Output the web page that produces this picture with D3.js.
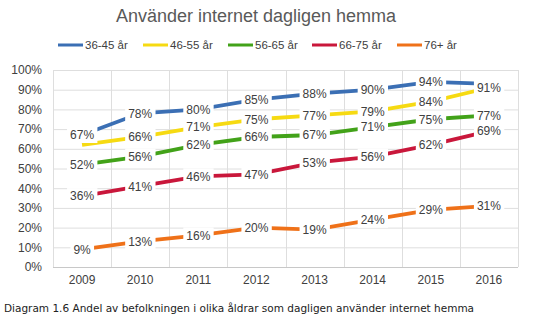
<!DOCTYPE html>
<html><head><meta charset="utf-8">
<script src="https://cdn.jsdelivr.net/npm/d3@7"></script>
<style>body{margin:0;background:#fff}svg{display:block;font-family:"Liberation Sans",Arial,sans-serif}</style>
</head><body><svg id="c" width="547" height="330"></svg>
<script>
const years = ["2009","2010","2011","2012","2013","2014","2015","2016"];
const seriesNames = ["36-45 år","46-55 år","56-65 år","66-75 år","76+ år"];
const seriesColors = ["#3b6fb4","#f6da12","#42a219","#c9173b","#ef7119"];
const s3645 = [67,78,80,85,88,90,94,93];
const s4655 = [62,66,71,75,77,79,84,91];
const s5665 = [52,56,62,66,67,71,75,77];
const s6675 = [36,41,46,47,53,56,62,69];
const s76 = [9,13,16,20,19,24,29,31];
// labels hidden in reference (overlapping): [series, year index]
const hiddenLabels = [[1,0],[0,7]];
const yTicks = [0,10,20,30,40,50,60,70,80,90,100];
const title = "Använder internet dagligen hemma";
const caption = "Diagram 1.6 Andel av befolkningen i olika åldrar som dagligen använder internet hemma";

const allSeries = [s3645,s4655,s5665,s6675,s76];
const svg = d3.select("#c");
const m = {l:53, r:518, t:70, b:267};
const x = d3.scaleBand().domain(years).range([m.l, m.r]).padding(0);
const y = d3.scaleLinear().domain([0,100]).range([m.b, m.t]);

svg.append("text").attr("x",256).attr("y",22).attr("text-anchor","middle")
  .attr("font-size",18).attr("fill","#595959").text(title);

// legend
const legX = [58,143,228,312,397];
seriesNames.forEach((n,i)=>{
  const g = svg.append("g");
  g.append("line").attr("x1",legX[i]).attr("x2",legX[i]+25).attr("y1",45).attr("y2",45)
    .attr("stroke",seriesColors[i]).attr("stroke-width",3);
  g.append("text").attr("x",legX[i]+27).attr("y",49).attr("font-size",11.5).attr("fill","#404040").text(n);
});

// gridlines
svg.append("g").selectAll("line").data(yTicks).join("line")
  .attr("x1",m.l).attr("x2",m.r).attr("y1",d=>y(d)+0.5).attr("y2",d=>y(d)+0.5)
  .attr("stroke",d=>d===0?"#c8c8c8":"#dedede").attr("stroke-width",1);
const bounds = years.map(d=>x(d)).concat([x(years[years.length-1])+x.bandwidth()]);
svg.append("g").selectAll("line").data(bounds).join("line")
  .attr("x1",d=>Math.round(d)+0.5).attr("x2",d=>Math.round(d)+0.5).attr("y1",m.t).attr("y2",m.b)
  .attr("stroke","#dedede").attr("stroke-width",1);

// axes
const ya = d3.axisLeft(y).tickValues(yTicks).tickFormat(d=>d+"%").tickSize(0).tickPadding(11);
const yg = svg.append("g").attr("transform",`translate(${m.l},0)`).call(ya);
yg.select(".domain").remove();
yg.selectAll("text").attr("font-size",12).attr("fill","#404040").attr("font-family","Liberation Sans, Arial, sans-serif");
const xa = d3.axisBottom(x).tickSize(0).tickPadding(8);
const xg = svg.append("g").attr("transform",`translate(0,${m.b})`).call(xa);
xg.select(".domain").remove();
xg.selectAll("text").attr("font-size",12).attr("fill","#404040").attr("font-family","Liberation Sans, Arial, sans-serif");

// lines
const line = d3.line().x((d,i)=>x(years[i])+x.bandwidth()/2).y(d=>y(d));
allSeries.forEach((s,i)=>{
  svg.append("path").datum(s).attr("d",line).attr("fill","none")
    .attr("stroke",seriesColors[i]).attr("stroke-width",3.8);
});

// labels
const lg = svg.append("g");
allSeries.forEach((s,si)=>{
  s.forEach((v,i)=>{
    if(hiddenLabels.some(h=>h[0]===si&&h[1]===i)) return;
    const cx = x(years[i])+x.bandwidth()/2, cy = y(v);
    const g = lg.append("g");
    const t = g.append("text").attr("x",cx).attr("y",cy+4.3).attr("text-anchor","middle")
      .attr("font-size",12).attr("fill","#404040").text(v+"%");
    const bb = t.node().getBBox();
    g.insert("rect","text").attr("x",bb.x-3).attr("y",cy-8).attr("width",bb.width+6).attr("height",16).attr("fill","#fff");
  });
});

svg.append("text").attr("x",4).attr("y",312).attr("font-size",10.5).attr("fill","#222")
  .attr("font-family","DejaVu Sans, sans-serif").text(caption);
</script></body></html>
